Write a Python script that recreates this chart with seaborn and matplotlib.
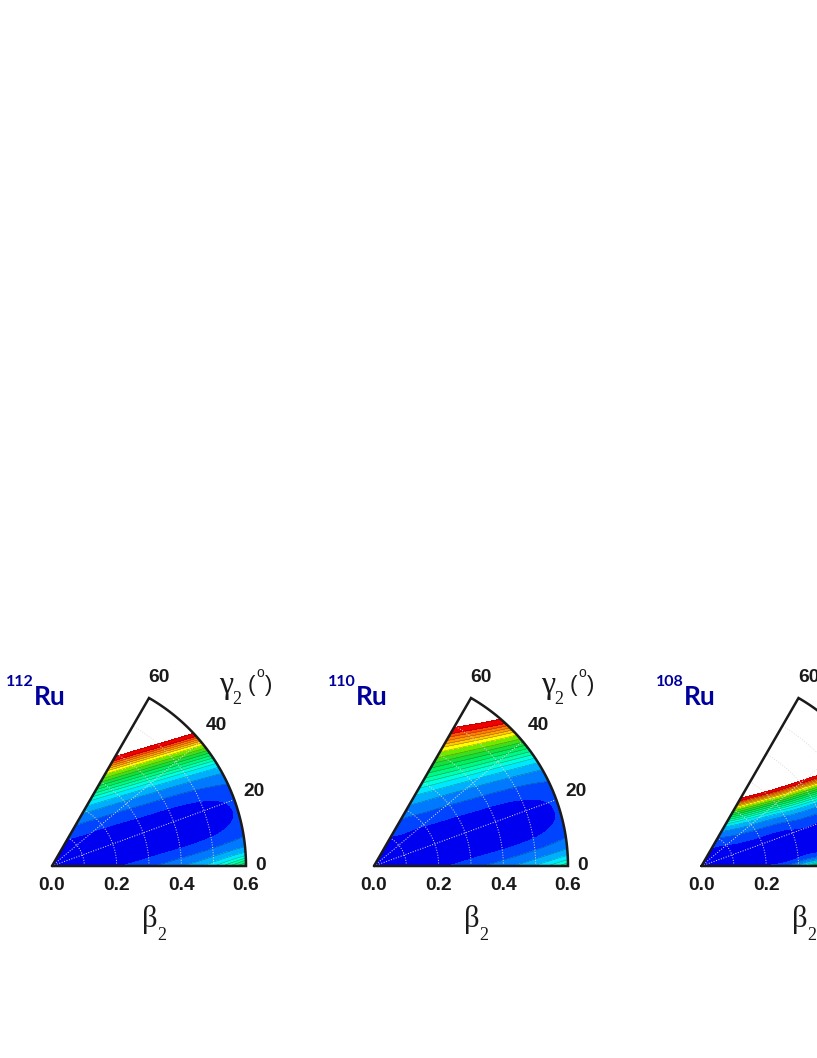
import numpy as np
import matplotlib
matplotlib.use('Agg')
import matplotlib.pyplot as plt
import matplotlib.tri as mtri
import seaborn as sns

# Potential energy surfaces in the (beta2, gamma2) plane
betas = [0.1, 0.2, 0.3, 0.4, 0.5, 0.6]
gammas = [0, 5, 10, 15, 20, 25, 30, 35, 40, 45, 50, 55, 60]

energy_112 = [
    [0.06, 0.01, -0.03, -0.05, -0.04, -0.02, 0.01, 0.06, 0.13, 0.20, 0.28, 0.36, 0.45],
    [0.35, 0.13, -0.02, -0.09, -0.08, 0.01, 0.15, 0.35, 0.59, 0.88, 1.20, 1.54, 1.89],
    [0.87, 0.39, 0.07, -0.09, -0.05, 0.13, 0.44, 0.87, 1.41, 2.04, 2.74, 3.49, 4.26],
    [1.60, 0.76, 0.19, -0.08, -0.02, 0.29, 0.83, 1.60, 2.54, 3.64, 4.87, 6.20, 7.58],
    [2.53, 1.26, 0.43, 0.07, 0.13, 0.57, 1.37, 2.52, 3.98, 5.69, 7.62, 9.69, 11.85],
    [4.00, 1.85, 0.84, 0.52, 0.55, 1.00, 1.99, 3.62, 5.72, 8.20, 10.97, 13.95, 17.06],
]
energy_110 = [
    [0.05, 0.00, -0.03, -0.05, -0.04, -0.03, 0.01, 0.05, 0.10, 0.16, 0.23, 0.29, 0.36],
    [0.30, 0.10, -0.03, -0.09, -0.08, -0.00, 0.12, 0.28, 0.47, 0.69, 0.92, 1.16, 1.40],
    [0.76, 0.34, 0.05, -0.09, -0.06, 0.10, 0.35, 0.69, 1.09, 1.54, 2.02, 2.49, 2.95],
    [1.40, 0.66, 0.16, -0.08, -0.03, 0.23, 0.68, 1.26, 1.94, 2.69, 3.46, 4.22, 4.94],
    [2.22, 1.11, 0.38, 0.06, 0.12, 0.49, 1.13, 1.99, 3.01, 4.13, 5.27, 6.37, 7.39],
    [3.20, 1.66, 0.79, 0.52, 0.54, 0.90, 1.68, 2.87, 4.33, 5.91, 7.49, 8.99, 10.32],
]
energy_108 = [
    [0.03, 0.01, 0.00, 0.00, 0.02, 0.07, 0.15, 0.26, 0.38, 0.52, 0.67, 0.83, 0.98],
    [0.41, 0.07, 0.00, 0.01, 0.10, 0.32, 0.67, 1.13, 1.71, 2.39, 3.14, 3.95, 4.77],
    [1.96, 0.34, 0.01, 0.01, 0.22, 0.70, 1.47, 2.53, 3.89, 5.52, 7.39, 9.45, 11.65],
    [6.00, 1.02, 0.04, 0.02, 0.36, 1.17, 2.49, 4.35, 6.76, 9.71, 13.20, 17.14, 21.47],
    [14.35, 2.41, 0.08, 0.03, 0.52, 1.72, 3.69, 6.51, 10.23, 14.88, 20.46, 26.91, 34.15],
    [29.36, 4.90, 0.16, 0.04, 0.70, 2.32, 5.04, 8.98, 14.26, 20.95, 29.11, 38.70, 49.68],
]

levels = [-5, 0.41, 1.00, 1.64, 2.16, 2.56, 2.89, 3.20, 3.53, 3.88, 4.24, 4.62,
          5.11, 5.48, 5.76, 6.05, 6.35, 6.66, 7.24]
band_colors = ['#0000f0', '#0044ff', '#0078ff', '#00aeff', '#00e8ff', '#00ffe0',
               '#00ffb0', '#00f888', '#00f060', '#10e040', '#38e020', '#70e800',
               '#ffff00', '#ffcc00', '#ffa000', '#ff8000', '#ff5000', '#f00000']

nuclei = ['112', '110', '108']
surfaces = [energy_112, energy_110, energy_108]
origins = [52, 374, 701.5]  # left edge of each sector, px
beta_ticks = [[0.0, 0.2, 0.4, 0.6], [0.0, 0.2, 0.4, 0.6], [0.0, 0.2]]
gamma_labels = [[60, 40, 20, 0], [60, 40, 20, 0], [60]]
gamma_label_px = {60: (107, 189), 40: (164, 140), 20: (202, 75), 0: (209, 1)}
grid_betas = [0.1, 0.2, 0.3, 0.4, 0.5]
grid_gammas = [20, 40]

W, H = 817, 1058
R = 0.6
SECT_W, SECT_H = 194, 168

sns.set_theme(style="white")
palette = sns.color_palette(band_colors)


def axes_text(ax, dx, dy, text, **kw):
    # offsets are pixels from the sector origin
    ax.text(dx / SECT_W, dy / SECT_H, text, transform=ax.transAxes,
            ha=kw.pop('ha', 'center'), va='center', clip_on=False, **kw)


def plot_sector(fig, origin, name, energy, ticks, labels):
    ax = fig.add_axes([origin / W, (H - 866) / H, SECT_W / W, SECT_H / H])

    bb, gg = np.meshgrid(betas, gammas, indexing='ij')
    b = np.r_[0.0, bb.ravel()]
    g = np.radians(np.r_[0.0, gg.ravel()])
    z = np.r_[0.0, np.array(energy).ravel()]
    tri = mtri.Triangulation(b * np.cos(g), b * np.sin(g))
    fine_tri, fine_z = mtri.UniformTriRefiner(tri).refine_field(z, subdiv=3)

    ax.tricontourf(fine_tri, fine_z, levels=levels, colors=palette)
    ax.tricontour(fine_tri, fine_z, levels=levels[2:], colors='k',
                  linewidths=0.3, alpha=0.55)

    # dotted polar grid
    th = np.radians(np.linspace(0, 60, 121))
    for r in grid_betas:
        ax.plot(r * np.cos(th), r * np.sin(th), color='#dcdcdc', lw=0.7, ls=':')
    for a in np.radians(grid_gammas):
        ax.plot([0, R * np.cos(a)], [0, R * np.sin(a)], color='#e6e6e6', lw=0.7, ls=':')

    # sector outline
    ax.plot(np.r_[0, R * np.cos(th), 0], np.r_[0, R * np.sin(th), 0], color='k',
            lw=1.8, clip_on=False, solid_joinstyle='miter')

    ax.set_xlim(0, R)
    ax.set_ylim(0, R * SECT_H / SECT_W)
    ax.set_xticks(ticks)
    ax.set_xticklabels([f'{t:.1f}' for t in ticks])
    ax.set_yticks([])
    ax.tick_params(axis='x', length=0, pad=8, labelsize=13.8, labelcolor='k')
    for t in ax.get_xticklabels():
        t.set_fontfamily('Liberation Sans')
        t.set_fontweight('bold')
    sns.despine(ax=ax, left=True, bottom=True)

    for lab in labels:
        dx, dy = gamma_label_px[lab]
        axes_text(ax, dx, dy, str(lab), family='Liberation Sans', fontweight='bold',
                  fontsize=13.8, color='k')

    axes_text(ax, 98, -54, 'β', family='Liberation Serif', fontsize=22, color='k')
    axes_text(ax, 110, -70, '2', family='Liberation Serif', fontsize=13, color='k')
    if len(labels) > 1:
        axes_text(ax, 174, 181, 'γ', family='Liberation Serif', fontsize=23, color='k')
        axes_text(ax, 184.5, 167, '2', family='Liberation Serif', fontsize=13, color='k')
        axes_text(ax, 199, 181, '(', family='Liberation Sans', fontsize=16, color='k')
        axes_text(ax, 217, 181, ')', family='Liberation Sans', fontsize=16, color='k')
        axes_text(ax, 208, 193, 'o', family='Liberation Sans', fontsize=10, color='k')

    axes_text(ax, -46, 184, name, family='Lato', fontweight='bold', fontsize=11.5,
              color='#00009c', ha='left')
    axes_text(ax, -18, 169, 'Ru', family='Lato', fontweight='bold', fontsize=19,
              color='#00009c', ha='left')


fig = plt.figure(figsize=(W / 100, H / 100), dpi=100)
for i in range(3):
    plot_sector(fig, origins[i], nuclei[i], surfaces[i], beta_ticks[i], gamma_labels[i])
fig.savefig('out.png', dpi=100)
